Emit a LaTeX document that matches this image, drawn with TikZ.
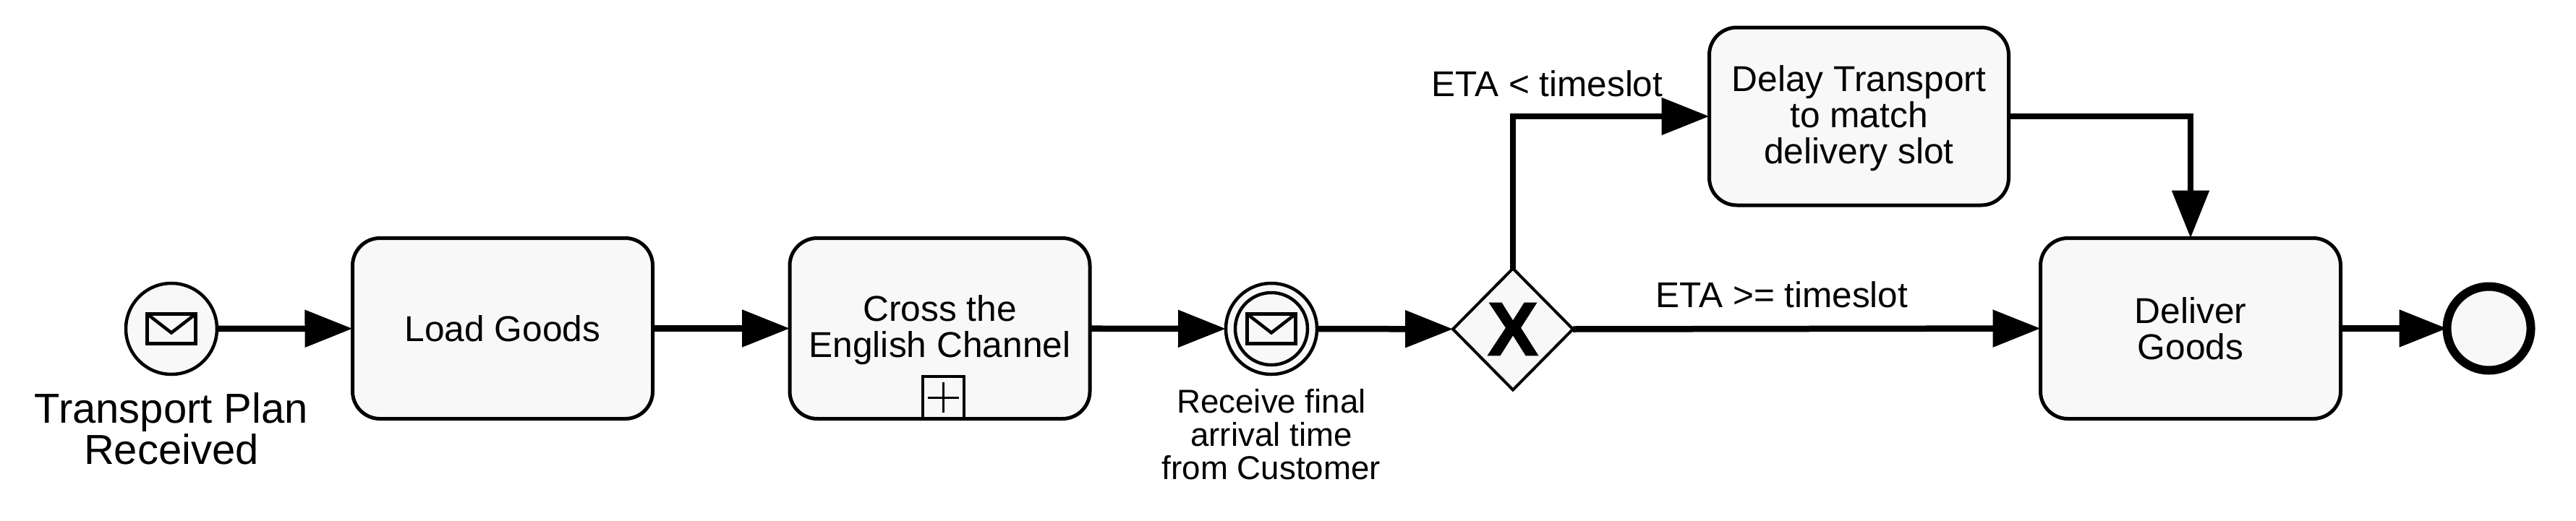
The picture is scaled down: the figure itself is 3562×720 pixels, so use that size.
\documentclass[tikz,border=0pt]{standalone}
\usepackage{fontspec}
\setmainfont{Liberation Sans}
\newfontfamily\heavyfont[FakeBold=1.6]{Liberation Sans Bold}
\usetikzlibrary{arrows.meta,shapes.geometric}
\definecolor{shapefill}{HTML}{F8F8F8}
\newcommand{\lowerline}[1]{\raisebox{-2.5pt}[\height][\depth]{#1}}
\tikzset{
  task/.style={draw=black,fill=shapefill,line width=5pt,rounded corners=38pt,minimum width=415pt,minimum height=250pt,inner sep=0pt,outer sep=0pt,align=center,font=\fontsize{49.7}{50}\selectfont},
  flow/.style={line width=8.5pt,draw=black,-{Triangle[length=66pt,width=50pt]}},
  evt/.style={circle,draw=black,fill=shapefill,line width=4.5pt,minimum size=126pt,inner sep=0pt,outer sep=0pt},
  evtin/.style={circle,draw=black,fill=shapefill,line width=4.5pt,minimum size=100pt,inner sep=0pt,outer sep=0pt},
  endevt/.style={circle,draw=black,fill=shapefill,line width=12pt,minimum size=116pt,inner sep=0pt,outer sep=0pt},
  env/.style={draw=black,line width=4.5pt,minimum width=67pt,minimum height=41pt,inner sep=0pt,outer sep=0pt},
  flapline/.style={draw=black,line width=4.5pt,line join=miter},
  gatebox/.style={diamond,aspect=1,draw=black,fill=shapefill,line width=4pt,minimum width=166pt,minimum height=168pt,inner sep=0pt,outer sep=0pt,font=\heavyfont\fontsize{105}{105}\selectfont},
  marker/.style={draw=black,fill=shapefill,line width=4pt,minimum width=57pt,minimum height=58pt,inner sep=0pt,outer sep=0pt},
  thinline/.style={draw=black,line width=3pt},
  lab/.style={inner sep=0pt,outer sep=0pt,align=center,font=\fontsize{49.5}{50}\selectfont},
  labsmall/.style={inner sep=0pt,outer sep=0pt,align=center,font=\fontsize{45.7}{45.7}\selectfont},
  labbig/.style={inner sep=0pt,outer sep=0pt,align=center,font=\fontsize{58}{57}\selectfont},
}
\begin{document}
\begin{tikzpicture}[x=1pt,y=-1pt]
\useasboundingbox (0,0) rectangle (3562,720);
% events and tasks
\node[evt] (start) at (237,455) {};
\node[env] (startenv) at (237,455) {};
\draw[flapline] (startenv.north west) -- ([yshift=-26pt]startenv.north) -- (startenv.north east);
\node[task] (load) at (695,454.5) {Load Goods};
\node[task] (cross) at (1299.5,454.5) {\lowerline{Cross the}\\\lowerline{English Channel}};
\node[marker] (sub) at (1304,550) {};
\draw[thinline] ([xshift=-21.5pt]sub.center) -- ([xshift=21.5pt]sub.center);
\draw[thinline] ([yshift=-21pt]sub.center) -- ([yshift=21pt]sub.center);
\node[evt] (catch) at (1758,455) {};
\node[evtin] (catchin) at (1758,455) {};
\node[env] (catchenv) at (1758,455) {};
\draw[flapline] (catchenv.north west) -- ([yshift=-26pt]catchenv.north) -- (catchenv.north east);
\node[gatebox] (gate) at (2092,455.5) {X};
\node[task,minimum height=246pt,minimum width=414pt] (delay) at (2570.5,161) {\lowerline{Delay Transport}\\\lowerline{to match}\\\lowerline{delivery slot}};
\node[task] (deliver) at (3029,454.5) {Deliver\\Goods};
\node[endevt] (finish) at (3441.5,454.5) {};
% labels
\node[labbig] (startlab) at (237,593) {Transport Plan\\Received};
\node[labsmall] (catchlab) at (1758,601) {Receive final\\arrival time\\from Customer};
\node[lab,anchor=base] (lowlab) at (2139.5,133) {ETA < timeslot};
\node[lab,anchor=base] (highlab) at (2464,425) {ETA >= timeslot};
% connectors
\draw[flow] (start) -- (load);
\draw[flow] (load) -- (cross);
\draw[flow] (cross) -- (catch);
\draw[flow] (catch) -- (gate);
\draw[flow] (gate.north) |- (delay.west);
\draw[flow] (gate.east) -- (deliver.west);
\draw[flow] (delay.east) -| (deliver.north);
\draw[flow] (deliver) -- (finish);
\end{tikzpicture}
\end{document}
